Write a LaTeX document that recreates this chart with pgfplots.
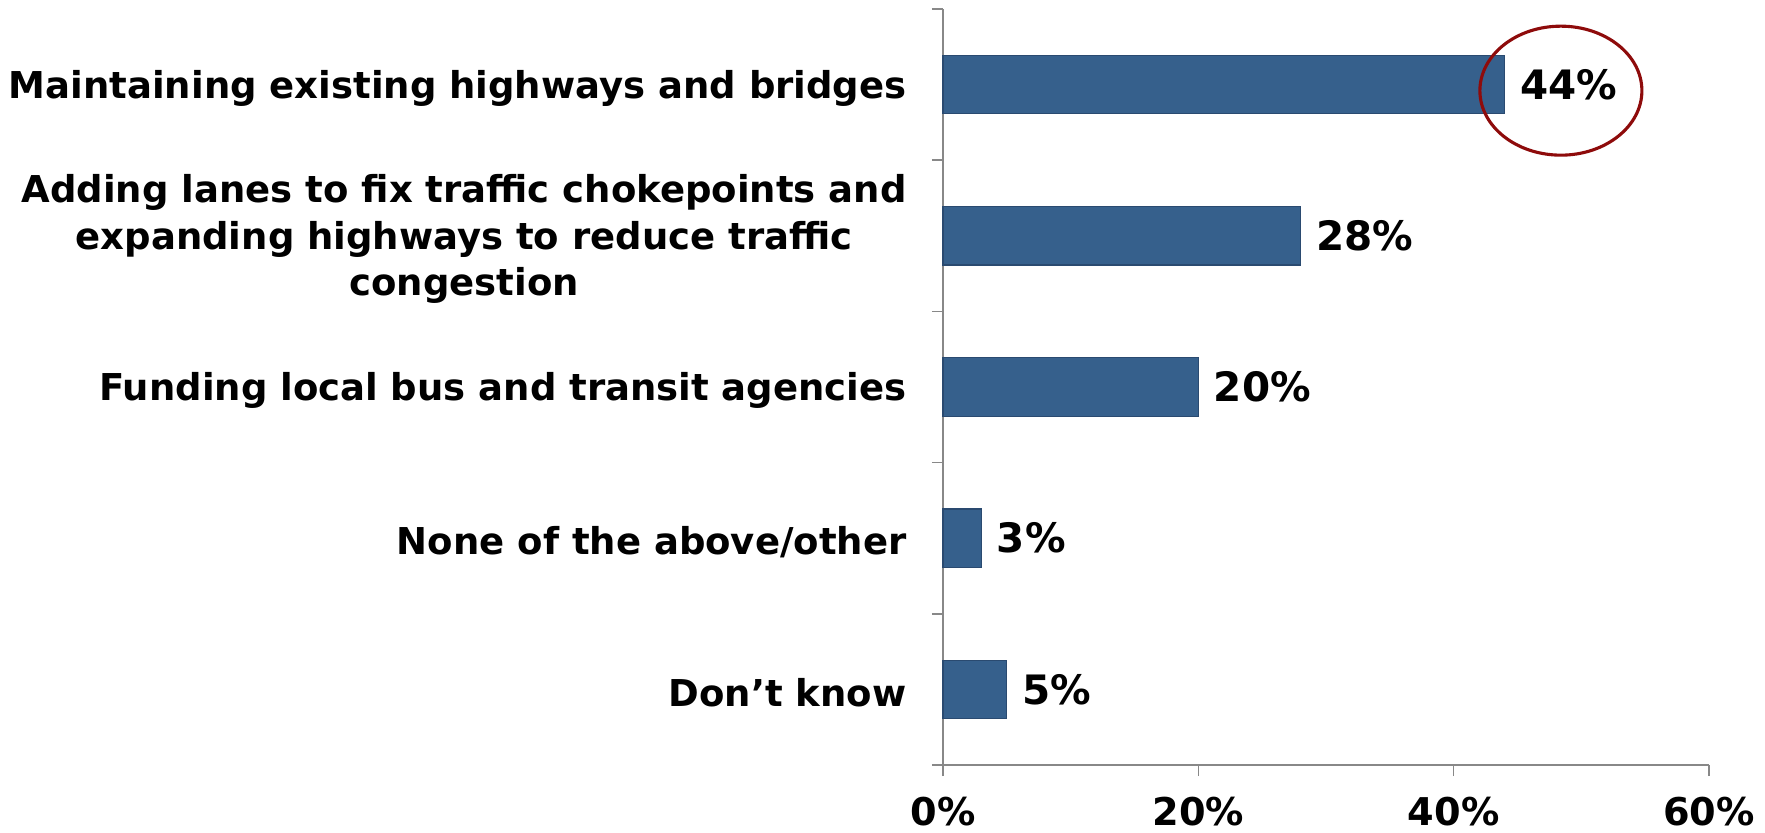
\documentclass[border=0pt]{standalone}
\usepackage{pgfplots}
\pgfplotsset{compat=1.18}
\usepackage{fontspec}
\setmainfont{DejaVu Sans}
\definecolor{barfill}{HTML}{36608C}
\definecolor{baredge}{HTML}{2A4A70}
\definecolor{axgray}{HTML}{888888}
\definecolor{ringred}{HTML}{8E0B0B}
\begin{document}
\begin{tikzpicture}[font=\bfseries\fontsize{14.8}{18.6}\selectfont]
\begin{axis}[
  scale only axis, width=306.4pt, height=302.4pt,
  xbar, bar width=23.4pt,
  xmin=0, xmax=60, ymin=-0.5, ymax=4.5, y dir=reverse,
  axis x line*=bottom, axis y line*=left,
  axis line style={axgray, line width=0.6pt},
  tick style={axgray, line width=0.6pt},
  tick align=outside, major tick length=4.4pt,
  xtick={0,20,40,60}, xticklabels={0\%,20\%,40\%,60\%},
  xticklabel style={font=\bfseries\fontsize{15.3}{16}\selectfont, yshift=-5pt},
  ytick={-0.5,0.5,1.5,2.5,3.5,4.5}, yticklabels={},
  extra y ticks={0,1,2,3,4},
  extra y tick labels={
    {Maintaining existing highways and bridges},
    {Adding lanes to fix traffic chokepoints and\\expanding highways to reduce traffic\\congestion},
    {Funding local bus and transit agencies},
    {None of the above/other},
    {Don’t know}},
  extra y tick style={major tick length=0pt, yticklabel style={align=center, inner sep=0pt, xshift=-14.4pt, yshift=-1.4pt}},
  nodes near coords={\pgfmathprintnumber[assume math mode=true]{\pgfplotspointmeta}\%},
  point meta=x,
  every node near coord/.append style={anchor=west, inner sep=0pt, xshift=6pt, black,
     font=\bfseries\fontsize{16.2}{17}\selectfont},
  clip=false,
]
\addplot[fill=barfill, draw=baredge, line width=0.5pt] coordinates {
  (44,0) (28,1) (20,2) (3,3) (5,4)};
\draw[ringred, line width=1.25pt] (axis cs:48.4,0.04) ellipse [x radius=32.4pt, y radius=25.8pt];
\end{axis}
\pgfresetboundingbox
\path ([shift={(-377.2pt,-26.8pt)}]current axis.south west) rectangle ([shift={(22.4pt,3.6pt)}]current axis.north east);
\end{tikzpicture}
\end{document}
